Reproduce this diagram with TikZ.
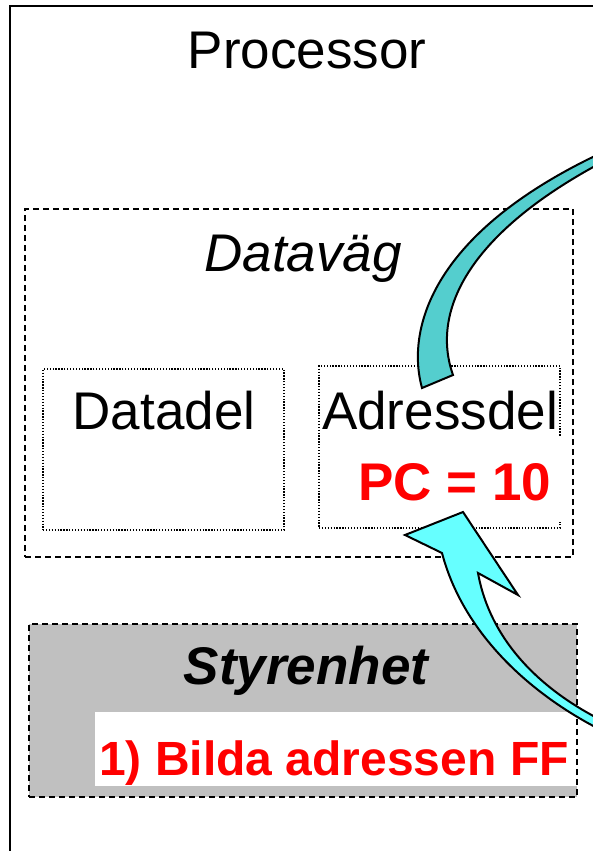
\documentclass[tikz,border=0pt]{standalone}
\usepackage{fontspec}
\setmainfont{Liberation Sans}
\definecolor{arrowteal}{RGB}{84,206,206}
\definecolor{arrowcyan}{RGB}{102,255,255}
\definecolor{ctrlgray}{RGB}{192,192,192}
\definecolor{pcred}{RGB}{255,0,0}
\tikzset{
  txt/.style={inner sep=0pt, anchor=base, font=\fontsize{53}{60}\selectfont},
  dashbox/.style={draw, line width=1.3pt, dash pattern=on 6pt off 4pt, inner sep=0pt},
  dotbox/.style={draw, line width=1.3pt, dash pattern=on 1.3pt off 1.6pt, inner sep=0pt},
  blockarrow/.style={draw=black, line width=2pt, line join=miter}
}
\begin{document}
\begin{tikzpicture}[x=1pt,y=-1pt]
\useasboundingbox (0,0) rectangle (593,851);
\begin{scope}
\clip (0,0) rectangle (593,851);
\fill[white] (0,0) rectangle (593,851);

% processor outline (continues beyond the page)
\draw[line width=1.8pt] (10,870) -- (10,6) -- (620,6);
\node[txt] (proc) at (307,69) {Processor};

% data path
\node[dashbox, minimum width=548pt, minimum height=348pt] (datapath) at (299,383) {};
\node[txt, font=\fontsize{53}{60}\selectfont\itshape] (dpname) at (303,271) {Dataväg};

% data part and address part
\node[dotbox, minimum width=241pt, minimum height=161pt] (datadel) at (163.5,449.5) {};
\node[dotbox, minimum width=241pt, minimum height=162pt] (adrdel) at (439.5,447) {};
\node[txt] (datadeltxt) at (164,429) {Datadel};
\node[txt] (adrdeltxt) at (440,429) {Adressdel};
\node[fill=white, minimum width=230pt, minimum height=85pt, inner sep=0pt] (pcbg) at (451,479.5) {};
\node[txt, text=pcred, font=\fontsize{53}{60}\selectfont\bfseries] (pc) at (455,500) {PC = 10};

% control unit
\node[fill=ctrlgray, minimum width=548pt, minimum height=173pt, inner sep=0pt] (ctrl) at (303,710.5) {};
\node[fill=white, minimum width=482pt, minimum height=74pt, inner sep=0pt] (stepbg) at (336,749) {};
\node[dashbox, minimum width=548pt, minimum height=173pt] (ctrlframe) at (303,710.5) {};
\node[txt, font=\fontsize{53}{60}\selectfont\bfseries\itshape] (ctrltxt) at (306,684) {Styrenhet};
\node[txt, text=pcred, font=\fontsize{48}{56}\selectfont\bfseries] (step1) at (334,775) {1) Bilda adressen FF};

% curved arrow entering the address part from above
\draw[blockarrow, fill=arrowteal]
  (422,388) .. controls (406,330) and (430,230) .. (612,148)
  -- (612,157) .. controls (470,230) and (430,310) .. (453,375) -- cycle;

% curved arrow from the control unit up to the program counter
\draw[blockarrow, fill=arrowcyan]
  (405,535) -- (463,512) -- (518,595) -- (478,573)
  .. controls (490,640) and (540,690) .. (605,722)
  -- (605,732) .. controls (540,700) and (465,640) .. (442,553) -- cycle;
\end{scope}
\end{tikzpicture}
\end{document}
